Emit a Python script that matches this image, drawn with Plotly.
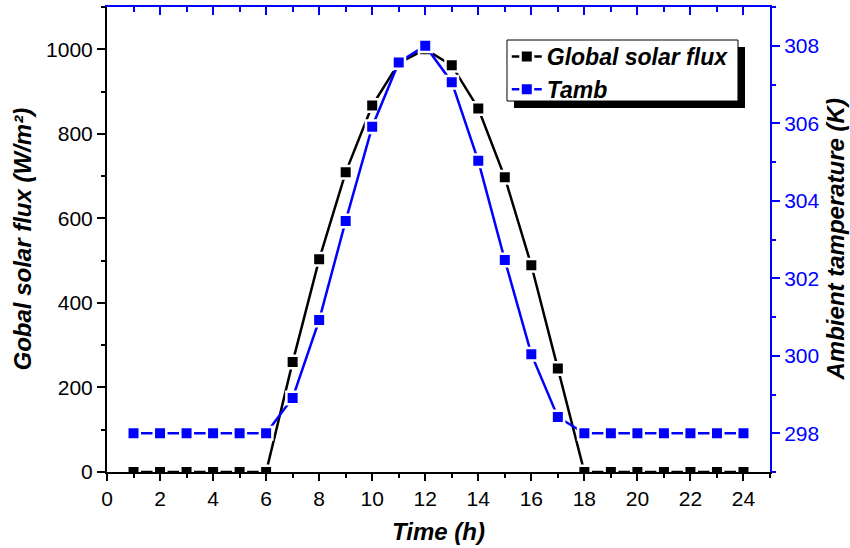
import plotly.graph_objects as go

hours = list(range(1, 25))
global_flux = [0, 0, 0, 0, 0, 0, 260, 503, 709, 867, 967, 1000,
               962, 860, 697, 489, 245, 0, 0, 0, 0, 0, 0, 0]
tamb = [298, 298, 298, 298, 298, 298, 298.91, 300.92, 303.48, 305.91, 307.57, 308.0,
        307.06, 305.03, 302.47, 300.04, 298.42, 298, 298, 298, 298, 298, 298, 298]

FONT = "Liberation Sans, Arial, sans-serif"
BLUE = "#0000FF"

fig = go.Figure()
fig.add_trace(go.Scatter(
    x=hours, y=global_flux, name="Global solar flux", mode="lines+markers",
    line=dict(color="black", width=2.5),
    marker=dict(symbol="square", size=12.5, color="black", line=dict(color="white", width=2.5)),
    xaxis="x", yaxis="y"))
fig.add_trace(go.Scatter(
    x=hours, y=tamb, name="Tamb", mode="lines+markers",
    line=dict(color=BLUE, width=2.5),
    marker=dict(symbol="square", size=12.5, color=BLUE, line=dict(color="white", width=2.5)),
    xaxis="x", yaxis="y2"))
fig.add_trace(go.Scatter(x=[], y=[], xaxis="x2", yaxis="y", showlegend=False))

tickfont = dict(family=FONT, size=21, color="black")
titlefont = dict(family=FONT, size=24, color="black", weight="bold", style="italic")

fig.update_layout(
    width=850, height=548,
    margin=dict(l=107, r=80, t=7, b=76),
    paper_bgcolor="white", plot_bgcolor="white",
    font=dict(family=FONT),
    xaxis=dict(range=[0, 25], tick0=0, dtick=2, ticks="outside", ticklen=7, tickwidth=1.5,
               tickcolor="black", showline=True, linecolor="black", linewidth=2,
               showgrid=False, zeroline=False, tickfont=tickfont, automargin=False,
               minor=dict(dtick=1, ticks="outside", ticklen=4, tickcolor="black", showgrid=False)),
    xaxis2=dict(range=[0, 25], overlaying="x", side="top", anchor="y", tick0=0, dtick=2,
                ticks="inside", ticklen=8, tickwidth=1.5, tickcolor=BLUE, showline=True,
                linecolor=BLUE, linewidth=2, showgrid=False, zeroline=False,
                showticklabels=False, automargin=False,
                minor=dict(dtick=1, ticks="inside", ticklen=5, tickcolor=BLUE, showgrid=False)),
    yaxis=dict(range=[0, 1100], tick0=0, dtick=200, ticks="outside", ticklen=8, tickwidth=1.5,
               tickcolor="black", showline=True, linecolor="black", linewidth=2,
               showgrid=False, zeroline=False, tickfont=tickfont, automargin=False,
               minor=dict(dtick=100, ticks="outside", ticklen=4, tickcolor="black", showgrid=False)),
    yaxis2=dict(range=[297, 309], tick0=298, dtick=2, overlaying="y", side="right", anchor="x",
                ticks="outside", ticklen=8, tickwidth=1.5, tickcolor=BLUE, showline=True,
                linecolor=BLUE, linewidth=2, showgrid=False, zeroline=False, automargin=False,
                tickfont=dict(family=FONT, size=21, color=BLUE),
                minor=dict(dtick=1, ticks="outside", ticklen=4, tickcolor=BLUE, showgrid=False)),
    legend=dict(x=0.603, y=0.9398, xanchor="left", yanchor="top",
                bgcolor="rgba(0,0,0,0)", borderwidth=0,
                font=dict(family=FONT, size=23, color="black", weight="bold", style="italic"),
                tracegroupgap=0, itemwidth=30),
    shapes=[
        dict(type="rect", xref="paper", yref="paper", x0=0.6139, x1=0.9623,
             y0=0.7828, y1=0.9140, fillcolor="black", line=dict(width=0), layer="above"),
        dict(type="rect", xref="paper", yref="paper", x0=0.6033, x1=0.9517,
             y0=0.7978, y1=0.9290, fillcolor="white", line=dict(color="black", width=1),
             layer="above"),
    ],
    annotations=[
        dict(text="Time (h)", xref="paper", yref="paper", x=0.5, y=-0.129,
             xanchor="center", yanchor="middle", showarrow=False, font=titlefont),
        dict(text="Gobal solar flux (W/m²)", xref="paper", yref="paper", x=-0.1282, y=0.5,
             xanchor="center", yanchor="middle", textangle=-90, showarrow=False, font=titlefont),
        dict(text="Ambient tamperature (K)", xref="paper", yref="paper", x=1.0995, y=0.5,
             xanchor="center", yanchor="middle", textangle=-90, showarrow=False, font=titlefont),
    ],
)

fig.write_html("out.html", config={"displayModeBar": False},
               post_script="document.body.style.margin='0px';")
